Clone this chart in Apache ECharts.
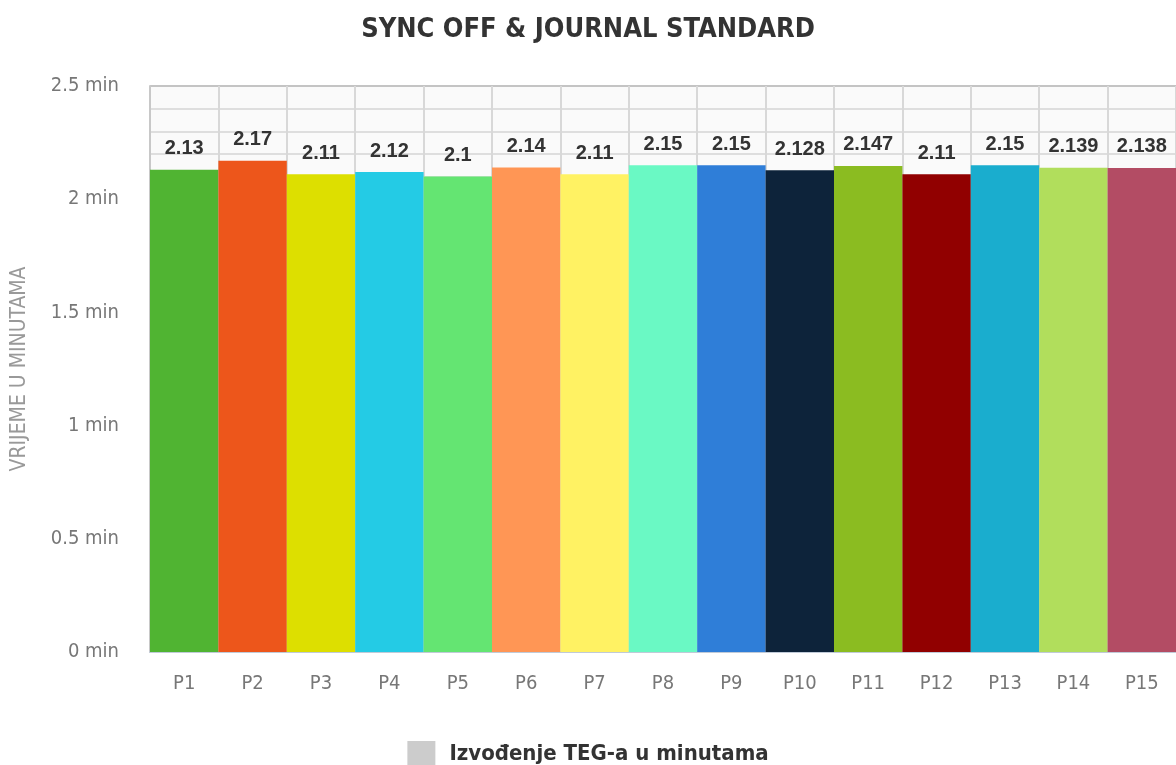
<!DOCTYPE html>
<html>
<head>
<meta charset="utf-8">
<script src="https://cdn.jsdelivr.net/npm/echarts@6/dist/echarts.min.js"></script>
<style>html,body{margin:0;padding:0;background:#fff}#c{width:1176px;height:765px}</style>
</head>
<body>
<div id="c"></div>
<script>
const titleText = 'SYNC OFF & JOURNAL STANDARD';
const seriesName = 'Izvođenje TEG-a u minutama';
const yAxisName = 'VRIJEME U MINUTAMA';
const categories = ['P1','P2','P3','P4','P5','P6','P7','P8','P9','P10','P11','P12','P13','P14','P15'];
const values = [2.13, 2.17, 2.11, 2.12, 2.1, 2.14, 2.11, 2.15, 2.15, 2.128, 2.147, 2.11, 2.15, 2.139, 2.138];
const barColors = ['#50B432','#ED561B','#DDDF00','#24CBE5','#64E572','#FF9655','#FFF263','#6AF9C4','#2f7ed8','#0d233a','#8bbc21','#910000','#1aadce','#b1de5c','#b34c64'];

const gridColors = [];
for (let i = 0; i < 26; i++) gridColors.push(i === 25 ? '#c4c4c4' : '#dedede');

const chart = echarts.init(document.getElementById('c'));
chart.setOption({
  animation: false,
  title: {
    text: titleText, left: 'center', top: 11,
    textStyle: { fontFamily: 'DejaVu Sans Condensed', fontWeight: 'bold', fontSize: 27, color: '#333' }
  },
  legend: {
    top: 736, left: 'center', itemWidth: 28, itemHeight: 27, itemGap: 15,
    data: [{ name: seriesName, icon: 'rect', itemStyle: { color: '#cccccc' } }],
    textStyle: { fontFamily: 'DejaVu Sans Condensed', fontWeight: 'bold', fontSize: 22, color: '#333', padding: [0, 0, 0, 9] }
  },
  grid: { left: 150, right: 0, top: 86, bottom: 113, show: true, backgroundColor: '#fafafa', borderWidth: 0 },
  xAxis: {
    type: 'category', data: categories,
    axisLine: { lineStyle: { color: '#c0cad8', width: 2 } },
    axisTick: { length: 18, lineStyle: { color: '#c0cad8', width: 2 } },
    splitLine: { show: true, lineStyle: { color: '#d8d8d8', width: 2 } },
    axisLabel: { margin: 22, fontFamily: 'DejaVu Sans Condensed', fontSize: 20, color: '#777' }
  },
  yAxis: {
    type: 'value', min: 0, max: 2.5, interval: 0.1,
    name: yAxisName, nameLocation: 'middle', nameGap: 120,
    nameTextStyle: { fontFamily: 'DejaVu Sans Condensed', fontSize: 21, color: '#999' },
    axisLine: { show: true, lineStyle: { color: '#c8c8c8', width: 2 } },
    axisTick: { show: false },
    splitLine: { show: true, lineStyle: { color: gridColors, width: 2 } },
    axisLabel: {
      margin: 31, fontFamily: 'DejaVu Sans Condensed', fontSize: 20, color: '#777',
      formatter: function (v) {
        const r = Math.round(v * 10);
        if (r % 5 !== 0) return '';
        return (r / 10) + ' min';
      }
    }
  },
  series: [{
    name: seriesName, type: 'bar', barCategoryGap: 0,
    itemStyle: { color: '#cccccc' },
    data: values.map((v, i) => ({ value: v, itemStyle: { color: barColors[i] } })),
    label: {
      show: true, position: 'top', distance: 11,
      fontFamily: 'Liberation Sans', fontWeight: 'bold', fontSize: 20, color: '#333'
    }
  }]
});
</script>
</body>
</html>
